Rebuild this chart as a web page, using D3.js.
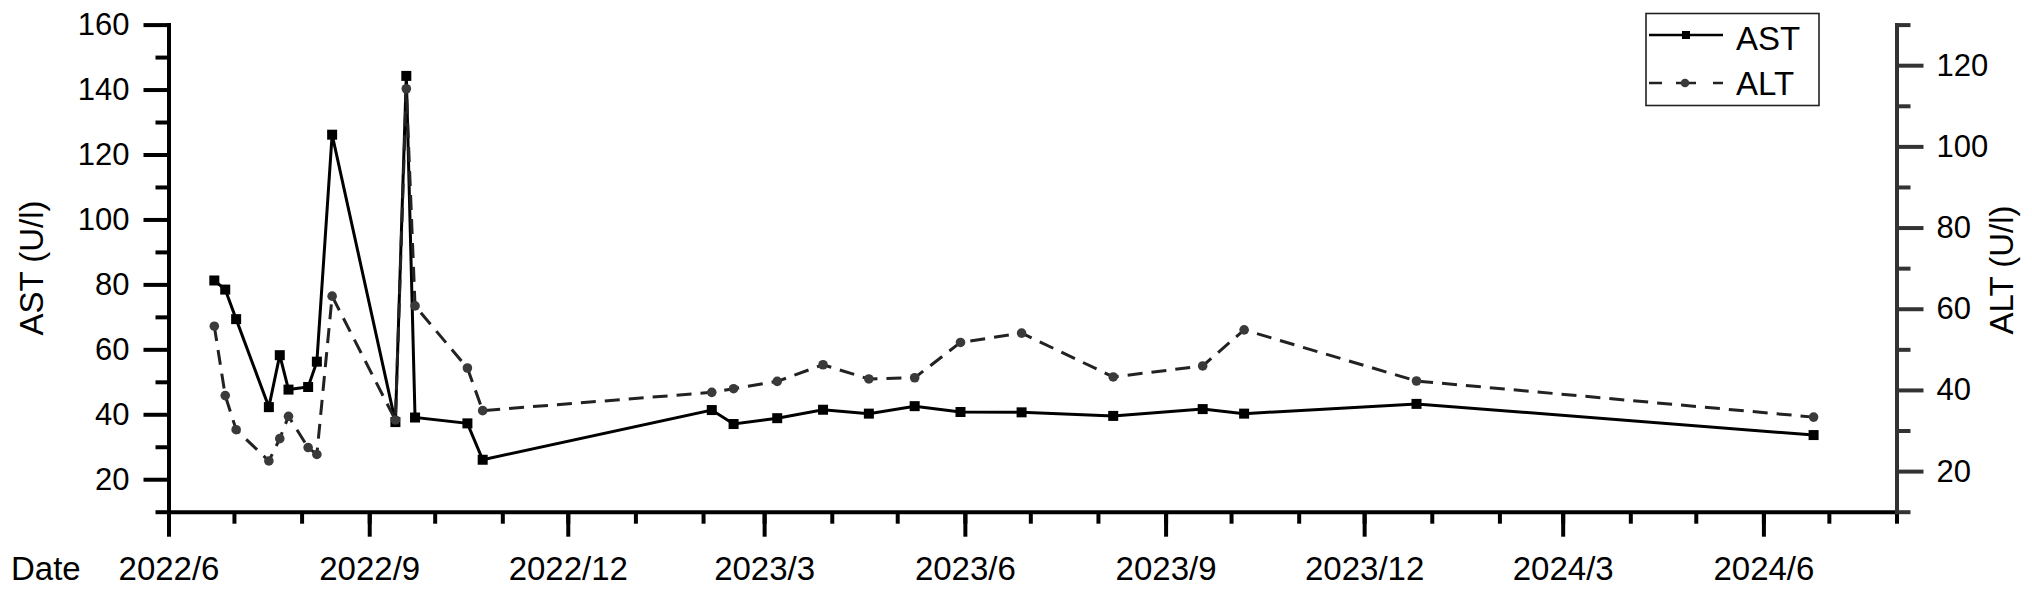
<!DOCTYPE html>
<html>
<head>
<meta charset="utf-8">
<script src="https://d3js.org/d3.v7.min.js"></script>
<style>
body{margin:0;background:#fff}
text{font-family:"Liberation Sans",Arial,sans-serif}
</style>
</head>
<body>
<svg width=2032 height=593></svg>
<script>
const dates=["2022-06-22","2022-06-27","2022-07-02","2022-07-17","2022-07-22","2022-07-26","2022-08-04","2022-08-08","2022-08-15","2022-09-13","2022-09-18","2022-09-22","2022-10-16","2022-10-23","2023-02-05","2023-02-15","2023-03-07","2023-03-28","2023-04-18","2023-05-09","2023-05-30","2023-06-27","2023-08-08","2023-09-18","2023-10-07","2023-12-25","2024-06-24"]
const astValues=[81.2,78.4,69.3,42.2,58.2,47.6,48.4,56.2,126.1,37.6,144.2,39.0,37.2,26.0,41.3,37.0,38.8,41.4,40.2,42.5,40.7,40.6,39.5,41.6,40.2,43.2,33.6]
const altValues=[55.7,38.6,30.2,22.5,28.0,33.5,25.8,24.1,63.1,32.6,114.2,60.7,45.4,34.9,39.4,40.3,42.1,46.2,42.7,43.0,51.7,54.0,43.2,45.9,54.8,42.2,33.3]
const xTickLabels=["2022/6","2022/9","2022/12","2023/3","2023/6","2023/9","2023/12","2024/3","2024/6"]
const astTicks=[20,40,60,80,100,120,140,160]
const astMinor=[10,30,50,70,90,110,130,150]
const altTicks=[20,40,60,80,100,120]
const altMinor=[10,30,50,70,90,110,130]

const svg=d3.select("svg")
const plotLeft=168.5, plotRight=1896.5, plotTop=24.6, plotBottom=511.7
const parse=d3.timeParse("%Y-%m-%d")
const parseTick=d3.timeParse("%Y/%m")
const fmt=d3.timeFormat("%Y/%-m")

const xStart=new Date(2022,5,1), xEnd=new Date(2024,7,1)
const xs=d3.scaleTime().domain([xStart,xEnd]).range([plotLeft,plotRight])
const ysAst=d3.scaleLinear().domain([10,160]).range([plotBottom,plotTop])
const ysAlt=d3.scaleLinear().domain([10,130]).range([plotBottom,plotTop])

const data=dates.map((d,i)=>({date:parse(d),ast:astValues[i],alt:altValues[i]}))

function styleAxis(g,color,fs){
  g.select(".domain").attr("stroke",color).attr("stroke-width",4).attr("stroke-linecap","square")
  g.selectAll(".tick line").attr("stroke",color).attr("stroke-width",4)
  g.selectAll("text").attr("fill","#000").style("font-size",fs+"px").style("font-family","Liberation Sans, Arial, sans-serif")
}

// x axis
const months=d3.timeMonth.range(xStart,d3.timeDay.offset(xEnd,1))
svg.append("g").attr("transform","translate(0,"+plotBottom+")")
  .call(d3.axisBottom(xs).tickValues(months).tickSize(12).tickSizeOuter(0).tickFormat(""))
  .call(g=>styleAxis(g,"#000",33))
svg.append("g").attr("transform","translate(0,"+plotBottom+")")
  .call(d3.axisBottom(xs).tickValues(xTickLabels.map(parseTick)).tickSize(25).tickSizeOuter(0).tickPadding(20).tickFormat(fmt))
  .call(g=>{styleAxis(g,"#000",33);g.select(".domain").remove()})

// left axis
svg.append("g").attr("transform","translate("+plotLeft+",0)")
  .call(d3.axisLeft(ysAst).tickValues(astMinor).tickSize(13).tickSizeOuter(0).tickFormat(""))
  .call(g=>styleAxis(g,"#000",31))
svg.append("g").attr("transform","translate("+plotLeft+",0)")
  .call(d3.axisLeft(ysAst).tickValues(astTicks).tickSize(25).tickSizeOuter(0).tickPadding(14))
  .call(g=>{styleAxis(g,"#000",31);g.select(".domain").remove()})

// right axis
svg.append("g").attr("transform","translate("+plotRight+",0)")
  .call(d3.axisRight(ysAlt).tickValues(altMinor).tickSize(14).tickSizeOuter(0).tickFormat(""))
  .call(g=>styleAxis(g,"#333",31))
svg.append("g").attr("transform","translate("+plotRight+",0)")
  .call(d3.axisRight(ysAlt).tickValues(altTicks).tickSize(27).tickSizeOuter(0).tickPadding(13))
  .call(g=>{styleAxis(g,"#333",31);g.select(".domain").remove()})

// titles
svg.append("text").attr("x",11).attr("y",580).style("font-size","33px").text("Date")
svg.append("text").attr("transform","translate(43,268) rotate(-90)").attr("text-anchor","middle").style("font-size","33px").text("AST (U/l)")
svg.append("text").attr("transform","translate(2013,270) rotate(-90)").attr("text-anchor","middle").style("font-size","33px").text("ALT (U/l)")

// AST series
svg.append("path").datum(data)
  .attr("fill","none").attr("stroke","#000").attr("stroke-width",3)
  .attr("d",d3.line().x(d=>xs(d.date)).y(d=>ysAst(d.ast)))
svg.append("g").selectAll("rect").data(data).enter().append("rect")
  .attr("x",d=>xs(d.date)-5).attr("y",d=>ysAst(d.ast)-5)
  .attr("width",10).attr("height",10).attr("fill","#000")

// ALT series
svg.append("path").datum(data)
  .attr("fill","none").attr("stroke","#222").attr("stroke-width",3).attr("stroke-dasharray","15,9")
  .attr("d",d3.line().x(d=>xs(d.date)).y(d=>ysAlt(d.alt)))
svg.append("g").selectAll("circle").data(data).enter().append("circle")
  .attr("cx",d=>xs(d.date)).attr("cy",d=>ysAlt(d.alt)).attr("r",4.8).attr("fill","#3a3a3a")

// legend
const lg=svg.append("g")
lg.append("rect").attr("x",1646).attr("y",13.5).attr("width",173).attr("height",92)
  .attr("fill","#fff").attr("stroke","#222").attr("stroke-width",1.6)
lg.append("line").attr("x1",1649).attr("x2",1723).attr("y1",35).attr("y2",35).attr("stroke","#000").attr("stroke-width",2.5)
lg.append("rect").attr("x",1682).attr("y",31).attr("width",8).attr("height",8).attr("fill","#000")
lg.append("line").attr("x1",1649).attr("x2",1662).attr("y1",83).attr("y2",83).attr("stroke","#222").attr("stroke-width",2.5)
lg.append("line").attr("x1",1676).attr("x2",1696).attr("y1",83).attr("y2",83).attr("stroke","#222").attr("stroke-width",2.5)
lg.append("line").attr("x1",1713).attr("x2",1723).attr("y1",83).attr("y2",83).attr("stroke","#222").attr("stroke-width",2.5)
lg.append("circle").attr("cx",1685).attr("cy",83).attr("r",4.3).attr("fill","#3a3a3a")
lg.append("text").attr("x",1736).attr("y",50).style("font-size","33px").text("AST")
lg.append("text").attr("x",1736).attr("y",95).style("font-size","33px").text("ALT")
</script>
</body>
</html>
